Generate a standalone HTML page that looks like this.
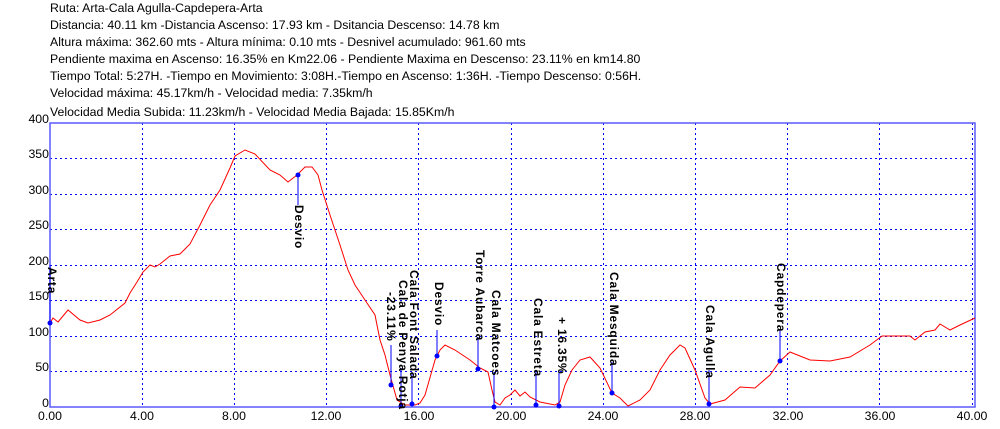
<!DOCTYPE html>
<html><head><meta charset="utf-8"><style>
body{margin:0;background:#fff;width:1000px;height:429px;overflow:hidden}
svg{display:block}
text{font-family:"Liberation Sans",Arial,sans-serif}
</style></head><body>
<svg width="1000" height="429" xmlns="http://www.w3.org/2000/svg">
<g font-size="12.3" fill="#000">
<text x="50" y="12">Ruta: Arta-Cala Agulla-Capdepera-Arta</text>
<text x="50" y="29">Distancia: 40.11 km -Distancia Ascenso: 17.93 km - Dsitancia Descenso: 14.78 km</text>
<text x="50" y="46">Altura máxima: 362.60 mts - Altura mínima: 0.10 mts - Desnivel acumulado: 961.60 mts</text>
<text x="50" y="63">Pendiente maxima en Ascenso: 16.35% en Km22.06 - Pendiente Maxima en Descenso: 23.11% en km14.80</text>
<text x="50" y="80">Tiempo Total: 5:27H. -Tiempo en Movimiento: 3:08H.-Tiempo en Ascenso: 1:36H. -Tiempo Descenso: 0:56H.</text>
<text x="50" y="97">Velocidad máxima: 45.17km/h - Velocidad media: 7.35km/h</text>
<text x="50" y="116">Velocidad Media Subida: 11.23km/h - Velocidad Media Bajada: 15.85Km/h</text>
</g>
<g stroke="#0000ff" stroke-width="1" stroke-dasharray="2,3">
<line x1="142.5" y1="123" x2="142.5" y2="407"/><line x1="234.5" y1="123" x2="234.5" y2="407"/>
<line x1="326.5" y1="123" x2="326.5" y2="407"/><line x1="418.5" y1="123" x2="418.5" y2="407"/>
<line x1="511.5" y1="123" x2="511.5" y2="407"/><line x1="603.5" y1="123" x2="603.5" y2="407"/>
<line x1="695.5" y1="123" x2="695.5" y2="407"/><line x1="787.5" y1="123" x2="787.5" y2="407"/>
<line x1="879.5" y1="123" x2="879.5" y2="407"/><line x1="972.5" y1="123" x2="972.5" y2="407"/>
<line x1="50" y1="158.5" x2="975" y2="158.5"/><line x1="50" y1="194.5" x2="975" y2="194.5"/>
<line x1="50" y1="229.5" x2="975" y2="229.5"/><line x1="50" y1="265.5" x2="975" y2="265.5"/>
<line x1="50" y1="300.5" x2="975" y2="300.5"/><line x1="50" y1="336.5" x2="975" y2="336.5"/>
<line x1="50" y1="371.5" x2="975" y2="371.5"/>
</g>
<rect x="50" y="123" width="925" height="284" fill="none" stroke="#5a5aff" stroke-width="1.5"/>
<g font-size="12.3" fill="#000">
<text x="49" y="123" text-anchor="end">400</text><text x="49" y="158" text-anchor="end">350</text>
<text x="49" y="194" text-anchor="end">300</text><text x="49" y="229" text-anchor="end">250</text>
<text x="49" y="265" text-anchor="end">200</text><text x="49" y="300" text-anchor="end">150</text>
<text x="49" y="336" text-anchor="end">100</text><text x="49" y="371" text-anchor="end">50</text>
<text x="49" y="407" text-anchor="end">0</text>
<g text-anchor="middle">
<text x="50" y="420">0.00</text><text x="142" y="420">4.00</text><text x="234" y="420">8.00</text>
<text x="326" y="420">12.00</text><text x="419" y="420">16.00</text><text x="511" y="420">20.00</text>
<text x="603" y="420">24.00</text><text x="695" y="420">28.00</text><text x="788" y="420">32.00</text>
<text x="880" y="420">36.00</text><text x="972" y="420">40.00</text></g>
</g>
<polyline fill="none" stroke="#ff0000" stroke-width="1" points="50,323 53,318 58,322 68,310 80,320 88,323 100,320 110,315 125,303 130,293 137,282 143,272 150,265 155,267 160,264 170,256 180,254 190,244 200,225 210,205 220,190 230,168 235,156 245,150 255,154 270,170 280,175 288,182 297,175 305,167 312,167 318,175 322,190 330,215 340,245 348,270 355,285 365,300 375,315 380,340 385,355 390,375 397,400 405,405 415,405 420,403 425,395 435,360 440,350 445,345 455,350 470,360 480,368 488,372 492,390 495,402 500,405 505,398 510,395 515,390 520,396 525,392 530,397 540,402 555,405 560,402 565,385 572,370 580,360 590,357 600,368 612,393 620,398 628,406 640,400 650,390 660,370 670,355 680,345 685,348 695,370 705,398 710,404 725,400 740,387 755,388 770,375 780,361 790,352 800,356 810,360 830,361 850,357 870,345 882,336 910,336 915,340 925,332 935,330 940,324 950,330 960,325 975,318"/>
<g stroke="#0000ff" stroke-width="1">
<line x1="50" y1="323" x2="50" y2="265"/><line x1="298" y1="175" x2="298" y2="205"/>
<line x1="391" y1="385" x2="391" y2="345"/><line x1="401" y1="406" x2="401" y2="368"/>
<line x1="412" y1="404" x2="412" y2="372"/><line x1="437" y1="356" x2="437" y2="330"/>
<line x1="478" y1="369" x2="478" y2="337"/><line x1="494" y1="407" x2="494" y2="372"/>
<line x1="536" y1="405" x2="536" y2="370"/><line x1="559" y1="406" x2="559" y2="370"/>
<line x1="612" y1="393" x2="612" y2="362"/><line x1="709" y1="404" x2="709" y2="370"/>
<line x1="780" y1="361" x2="780" y2="330"/>
</g>
<g fill="#0000ff">
<circle cx="50" cy="323" r="2.5"/><circle cx="298" cy="175" r="2.5"/><circle cx="391" cy="385" r="2.5"/>
<circle cx="401" cy="406" r="2.5"/><circle cx="412" cy="404" r="2.5"/><circle cx="437" cy="356" r="2.5"/>
<circle cx="478" cy="369" r="2.5"/><circle cx="494" cy="407" r="2.5"/><circle cx="536" cy="405" r="2.5"/>
<circle cx="559" cy="406" r="2.5"/><circle cx="612" cy="393" r="2.5"/><circle cx="709" cy="404" r="2.5"/>
<circle cx="780" cy="361" r="2.5"/>
</g>
<g font-size="12" font-weight="bold" fill="#000" letter-spacing="0.8">
<text transform="translate(48,267) rotate(90)">Arta</text>
<text transform="translate(295,205) rotate(90)">Desvio</text>
<text transform="translate(387,292) rotate(90)">-23.11%</text>
<text transform="translate(399,280) rotate(90)">Cala de Penya Rotja</text>
<text transform="translate(410,270) rotate(90)">Cala Font Salada</text>
<text transform="translate(435,282) rotate(90)">Desvio</text>
<text transform="translate(476,250) rotate(90)">Torre Aubarca</text>
<text transform="translate(492,290) rotate(90)">Cala Matcoes</text>
<text transform="translate(534,298) rotate(90)">Cala Estreta</text>
<text transform="translate(558,317) rotate(90)">+ 16.35%</text>
<text transform="translate(610,272) rotate(90)">Cala Mesquida</text>
<text transform="translate(706,305) rotate(90)">Cala Agulla</text>
<text transform="translate(777,263) rotate(90)">Capdepera</text>
</g>
</svg>
</body></html>
